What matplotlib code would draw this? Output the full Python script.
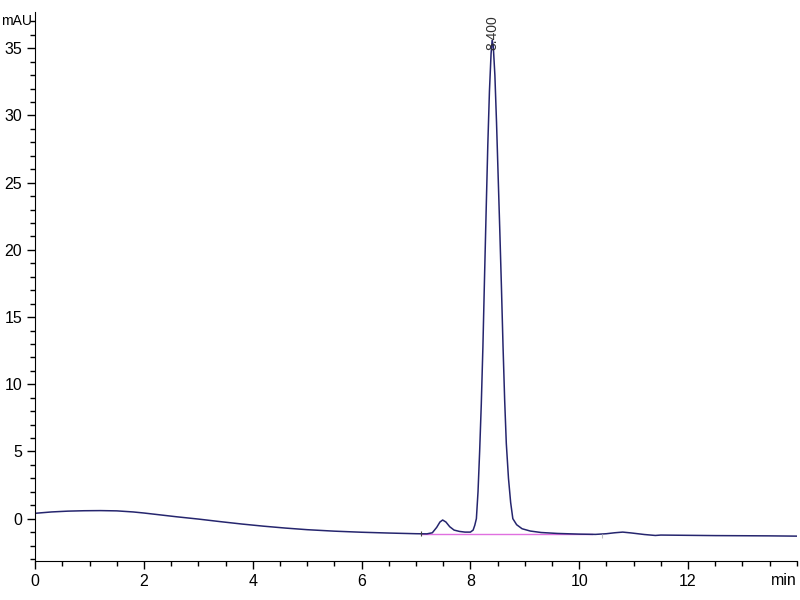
import matplotlib
matplotlib.use("Agg")
import matplotlib.pyplot as plt
from matplotlib.ticker import MultipleLocator
from matplotlib.transforms import blended_transform_factory

plt.rcParams['font.family'] = ['Liberation Sans', 'DejaVu Sans']

# chromatogram trace (min, mAU)
time_min = [0.0, 0.3, 0.6, 0.9, 1.2, 1.5, 1.8, 2.0, 2.3, 2.6, 3.0, 3.4, 3.8, 4.2,
            4.6, 5.0, 5.5, 6.0, 6.5, 7.0, 7.2, 7.3, 7.38, 7.44, 7.49, 7.55, 7.62,
            7.7, 7.8, 7.9, 8.0, 8.05, 8.08, 8.11, 8.14, 8.17, 8.20, 8.23, 8.26,
            8.29, 8.32, 8.35, 8.38, 8.40, 8.42, 8.45, 8.48, 8.51, 8.54, 8.57,
            8.60, 8.63, 8.66, 8.70, 8.74, 8.78, 8.85, 8.95, 9.1, 9.3, 9.6, 10.0,
            10.3, 10.5, 10.65, 10.8, 10.95, 11.2, 11.4, 11.5, 12.0, 12.5, 13.0,
            13.5, 14.0]
signal = [0.40, 0.50, 0.56, 0.59, 0.60, 0.58, 0.50, 0.42, 0.28, 0.14, -0.03,
          -0.22, -0.40, -0.56, -0.70, -0.82, -0.93, -1.01, -1.07, -1.12, -1.13,
          -1.05, -0.65, -0.25, -0.10, -0.25, -0.60, -0.85, -0.95, -1.0, -1.0,
          -0.85, -0.5, 0.0, 2.0, 5.0, 8.5, 12.8, 18.0, 23.0, 27.8, 31.8, 34.6,
          35.6, 35.2, 33.0, 29.5, 25.5, 21.5, 17.3, 12.8, 8.8, 5.6, 3.0, 1.2,
          0.0, -0.45, -0.75, -0.92, -1.03, -1.10, -1.15, -1.17, -1.12, -1.05,
          -1.0, -1.06, -1.18, -1.25, -1.22, -1.24, -1.26, -1.27, -1.28, -1.30]

# integration baseline and markers
baseline_x = [7.10, 10.23]
baseline_y = [-1.15, -1.15]
peak_rt = 8.400
peak_top = 34.9

fig = plt.figure(figsize=(8, 6), dpi=100)
ax = fig.add_axes([0.044, 0.065, 0.952, 0.915])

ax.plot(baseline_x, baseline_y, color='#e070e0', lw=1.0, zorder=1)
ax.plot(time_min, signal, color='#25256e', lw=1.1, zorder=2)
ax.vlines(baseline_x[0], -1.3, -0.95, color='#404040', lw=0.8)
ax.vlines(10.41, -1.45, -1.15, color='#c0c0c0', lw=0.8)

ax.text(peak_rt, peak_top, f'{peak_rt:.3f}', rotation=90, ha='center',
        va='bottom', fontsize=10, color='#303030')

ax.set_xlim(0, 14.0)
ax.set_ylim(-3.15, 37.7)

for s in ['top', 'right']:
    ax.spines[s].set_visible(False)

ax.xaxis.set_major_locator(MultipleLocator(2))
ax.xaxis.set_minor_locator(MultipleLocator(0.5))
ax.yaxis.set_major_locator(MultipleLocator(5))
ax.yaxis.set_minor_locator(MultipleLocator(1))
ax.set_xticks([0, 2, 4, 6, 8, 10, 12])
ax.tick_params(which='major', direction='out', length=6, width=1, labelsize=11.5)
ax.tick_params(which='minor', direction='out', length=3.5, width=1)

trans = blended_transform_factory(fig.transFigure, ax.transData)
ax.text(0.001, 37, 'mAU', ha='left', va='center', fontsize=10, transform=trans)
ax.text(14.0, -4.05, 'min', ha='right', va='top', fontsize=11.5)

fig.savefig('out.png', dpi=100)
